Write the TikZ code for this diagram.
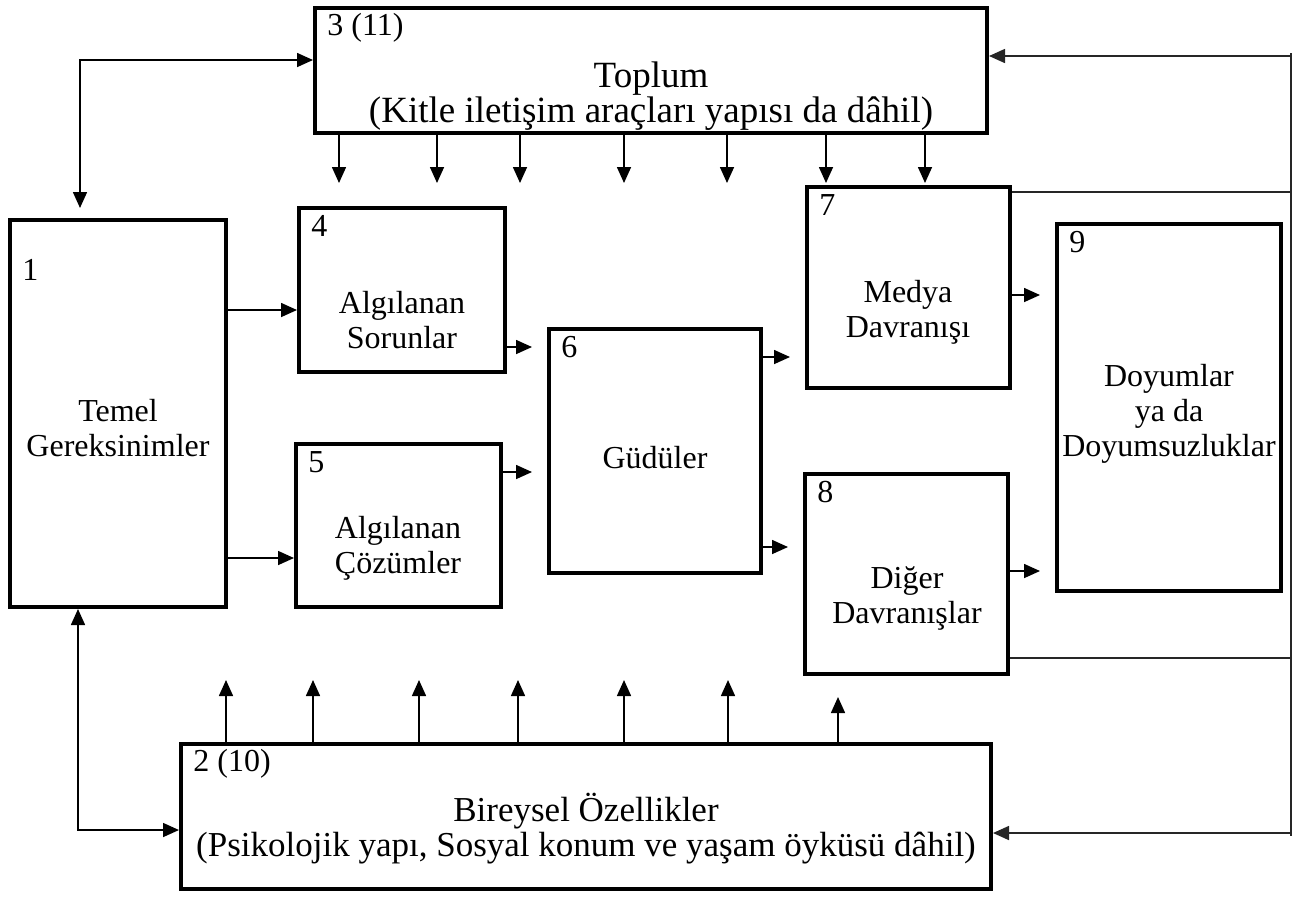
\documentclass[tikz,border=0pt]{standalone}
\usepackage{fontspec}
\setmainfont{Liberation Serif}
\usetikzlibrary{arrows.meta,fit}

\tikzset{
  box/.style={draw, line width=2pt, inner sep=0pt},
  txt/.style={align=center, inner sep=0pt, font=\fontsize{16}{17.5}\selectfont},
  wide/.style={align=center, inner sep=0pt, font=\fontsize{18.5}{17.5}\selectfont},
  low/.style={align=center, inner sep=0pt, font=\fontsize{17.5}{17.5}\selectfont},
  num/.style={anchor=west, inner sep=0pt, font=\fontsize{16}{17.5}\selectfont},
  arr/.style={line width=0.8pt, -{Triangle[length=8pt,width=7pt]}},
  dbl/.style={line width=0.8pt, {Triangle[length=8pt,width=7pt]}-{Triangle[length=8pt,width=7pt]}},
  gap/.style={arr, shorten >=7.5pt},
  rail/.style={line width=0.6pt, black!85},
}

\begin{document}
\begin{tikzpicture}[x=0.5pt, y=-0.5pt]
        \useasboundingbox (0,0) rectangle (1295,896);

        % Boxes
        \node[box, fit={(315,8) (987,133)}] (b3) {};
        \node[box, fit={(10,220) (226,607)}] (b1) {};
        \node[box, fit={(299,208) (505,372)}] (b4) {};
        \node[box, fit={(296,444) (501,607)}] (b5) {};
        \node[box, fit={(549,329) (761,573)}] (b6) {};
        \node[box, fit={(807,187) (1010,388)}] (b7) {};
        \node[box, fit={(805,474) (1008,674)}] (b8) {};
        \node[box, fit={(1057,224) (1281,591)}] (b9) {};
        \node[box, fit={(181,744) (991,889)}] (b2) {};

        % Box numbers
        \node[num] (n3) at ([shift={(7pt,-11pt)}]b3.north west) {3 (11)};
        \node[num] (n1) at ([shift={(7pt,-26pt)}]b1.north west) {1};
        \node[num] (n4) at ([shift={(7pt,-10pt)}]b4.north west) {4};
        \node[num] (n5) at ([shift={(7pt,-10pt)}]b5.north west) {5};
        \node[num] (n6) at ([shift={(7pt,-10pt)}]b6.north west) {6};
        \node[num] (n7) at ([shift={(7pt,-10pt)}]b7.north west) {7};
        \node[num] (n8) at ([shift={(7pt,-10pt)}]b8.north west) {8};
        \node[num] (n9) at ([shift={(7pt,-10pt)}]b9.north west) {9};
        \node[num] (n2) at ([shift={(7pt,-11pt)}]b2.north west) {2 (10)};

        % Box texts
        \node[wide] (t3) at (651,96) {Toplum\\(Kitle iletişim araçları yapısı da dâhil)};
        \node[txt] (t1) at (118,428) {Temel\\Gereksinimler};
        \node[txt] (t4) at (402,320) {Algılanan\\Sorunlar};
        \node[txt] (t5) at (398,548) {Algılanan\\Çözümler};
        \node[txt] (t6) at (655,458) {Güdüler};
        \node[txt] (t7) at (908,312) {Medya\\Davranışı};
        \node[txt] (t8) at (907,598) {Diğer\\Davranışlar};
        \node[txt] (t9) at (1169,414) {Doyumlar\\ya da\\Doyumsuzluklar};
        \node[low] (t2) at (586,829) {Bireysel Özellikler\\(Psikolojik yapı, Sosyal konum ve yaşam öyküsü dâhil)};

        % Society and individual arrows
        \foreach \x in {339,437,520,624,727,826,925}
          \draw[arr] (b3.south -| \x,0) -- ++(0,48);
        \foreach \x in {226,313,419,518,624,728}
          \draw[arr] (b2.north -| \x,0) -- ++(0,-62);
        \draw[arr] (b2.north -| 838,0) -- ++(0,-45);

        % Main flow
        \draw[arr] (b1.east |- 0,310) -- (b4.west |- 0,310);
        \draw[arr] (b1.east |- 0,558) -- (b5.west |- 0,558);
        \draw[gap] (b4.east |- 0,347) -- (b6.west |- 0,347);
        \draw[gap] (b5.east |- 0,472) -- (b6.west |- 0,472);
        \draw[gap] (b6.east |- 0,357) -- (b7.west |- 0,357);
        \draw[gap] (b6.east |- 0,547) -- (b8.west |- 0,547);
        \draw[gap] (b7.east |- 0,295) -- (b9.west |- 0,295);
        \draw[gap] (b8.east |- 0,571) -- (b9.west |- 0,571);

        % Feedback on the right
        \coordinate (rtop) at (1291,53);
        \coordinate (rbot) at (1291,836);
        \draw[rail] (rtop) -- (rbot);
        \draw[rail] (b7.east |- 0,192) -- (rtop |- 0,192);
        \draw[rail] (b8.east |- 0,658) -- (rtop |- 0,658);
        \draw[rail, arr] (rtop |- 0,56) -- (b3.east |- 0,56);
        \draw[rail, arr] (rtop |- 0,833) -- (b2.east |- 0,833);

        % Links on the left
        \draw[dbl] (b3.west |- 0,60) -| ([xshift=-19pt, yshift=5pt]b1.north);
        \draw[dbl] ([xshift=-20pt]b1.south) |- (b2.west |- 0,830);
\end{tikzpicture}
\end{document}
